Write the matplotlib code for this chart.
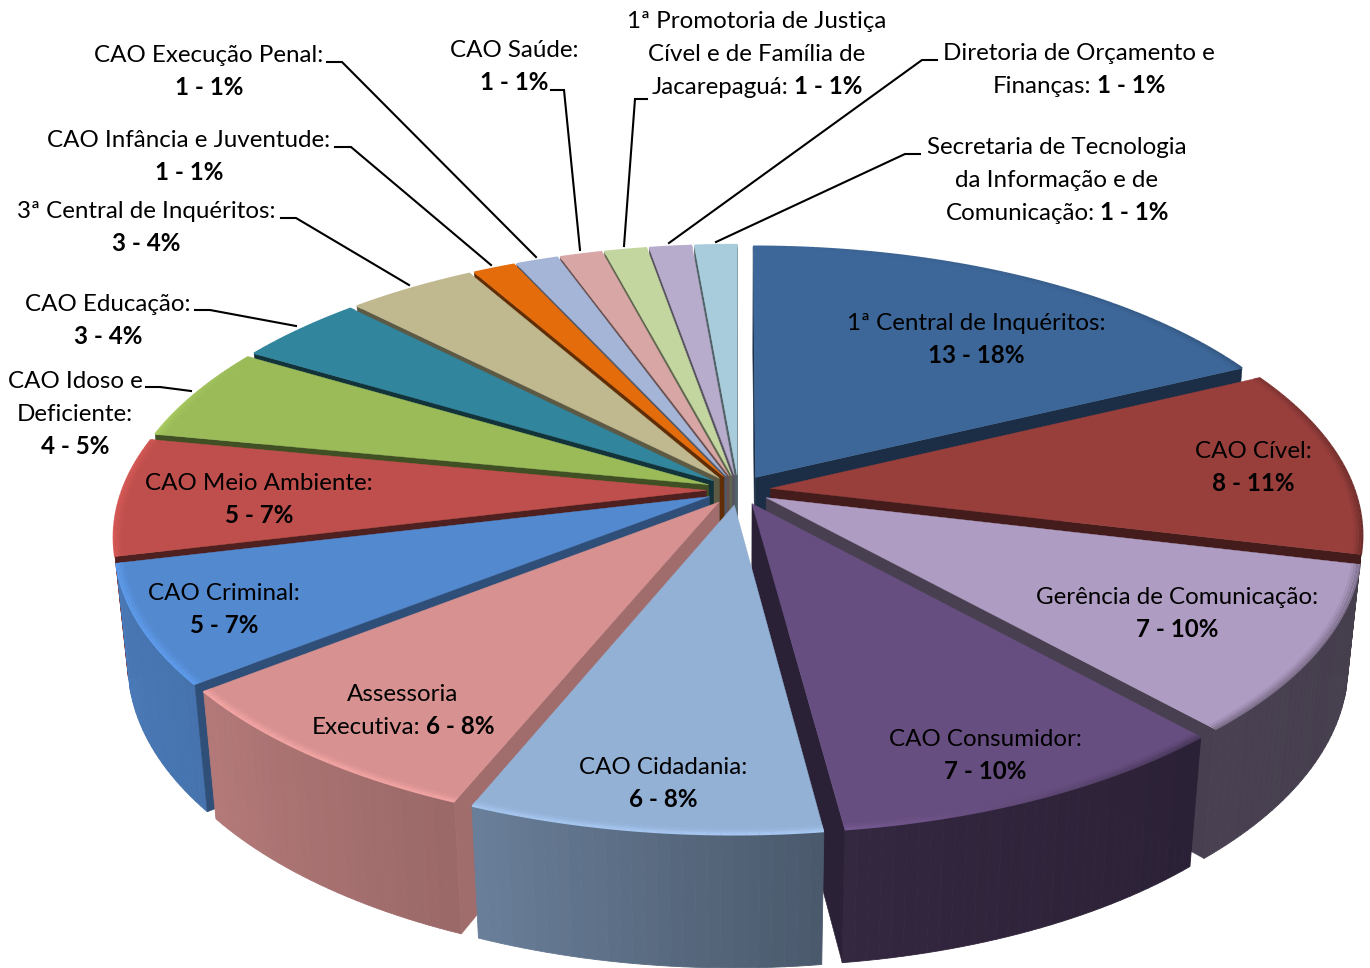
import numpy as np
import matplotlib
matplotlib.use("Agg")
import matplotlib.pyplot as plt
from matplotlib.collections import LineCollection
from matplotlib.colors import to_rgb

# ---- data ----
values = [13, 8, 7, 7, 6, 6, 5, 5, 4, 3, 3, 1, 1, 1, 1, 1, 1]
name_lines = [
    ["1ª Central de Inquéritos:"], ["CAO Cível:"], ["Gerência de Comunicação:"],
    ["CAO Consumidor:"], ["CAO Cidadania:"], ["Assessoria", "Executiva:"],
    ["CAO Criminal:"], ["CAO Meio Ambiente:"], ["CAO Idoso e", "Deficiente:"],
    ["CAO Educação:"], ["3ª Central de Inquéritos:"], ["CAO Infância e Juventude:"],
    ["CAO Execução Penal:"], ["CAO Saúde:"],
    ["1ª Promotoria de Justiça", "Cível e de Família de", "Jacarepaguá:"],
    ["Diretoria de Orçamento e", "Finanças:"],
    ["Secretaria de Tecnologia", "da Informação e de", "Comunicação:"],
]
inline_value = [False, False, False, False, False, True, False, False, False,
                False, False, False, False, False, True, True, True]
colors = ["#3D6799", "#983F3C", "#AF9CC3", "#674E80", "#93B0D5", "#D69190", "#5389CF",
          "#BE4F4C", "#9BBB59", "#31859C", "#C0B98F", "#E46C0A", "#A5B5D8", "#D9A6A6",
          "#C4D6A0", "#B7ACCB", "#A8CCDB"]
wall_shade = [.45, .45, .41, .42, .70, .75, .58, .41, .42, .38, .48, .42, .48, .48, .48, .48, .48]
label_x = [976, 1253, 1177, 985, 663, 403, 224, 259, 75, 108, 146, 189, 209, 514, 757, 1079, 1057]
label_y = [322, 450, 596, 738, 766, 693, 592, 482, 380, 303, 210, 139, 54, 49, 20, 52, 146]
leaders = [
    [(327, 62), (342, 62), (536, 257)], [(551, 90), (564, 90), (580, 250)],
    [(647, 99), (635, 99), (624, 246)], [(937, 60), (922, 60), (669, 243)],
    [(920, 154), (905, 154), (716, 242)], [(335, 147), (351, 147), (491, 265)],
    [(281, 218), (296, 218), (409, 285)], [(195, 310), (210, 310), (296, 326)],
    [(146, 387), (160, 387), (191, 391)],
]

# ---- projection ----
CX, CY, A, B, K, M, H, EXPLODE = 738.5, 490.0, 584.0, 271.5, .160, .021, 121.0, .055


def project(x, y, z=0.0):
    w = 1 + K * y + M * z
    return CX + A * x / w, CY + (-B * y + H * z) / w


def shade(c, f):
    return tuple(np.clip(np.array(to_rgb(c)) * f, 0, 1))


def facing(pts):
    """True when a wall quad faces the viewer (negative screen winding)."""
    p = np.array(pts)
    q = np.roll(p, -1, axis=0)
    return np.sum(p[:, 0] * q[:, 1] - q[:, 0] * p[:, 1]) < 0


fig = plt.figure(figsize=(13.7, 9.68), dpi=100)
ax = fig.add_axes([0, 0, 1, 1])
ax.set_xlim(0, 1370)
ax.set_ylim(968, 0)
ax.axis("off")

total = sum(values)
edges = np.concatenate([[0], np.cumsum(values)]) / total * 2 * np.pi
mids = (edges[:-1] + edges[1:]) / 2
wall_deg = [0, 120, 140, 172, 202, 232, 264, 300, 360]
wall_f = [.42, .40, .42, .50, .72, .84, .90, .70, .45]
rim_deg = [0, 60, 100, 140, 172, 200, 240, 275, 300, 360]
rim_f = [1.0, .86, .72, .72, 1.14, 1.12, 1.14, 1.12, 1.0, 1.0]

for i in np.argsort(-np.cos(mids)):
    t0, t1 = edges[i], edges[i + 1]
    c = colors[i]
    ox, oy = EXPLODE * np.sin(mids[i]), EXPLODE * np.cos(mids[i])
    th = np.linspace(t0, t1, max(6, int(np.degrees(t1 - t0) / 1.0)))
    ax_x, ax_y = ox + np.sin(th), oy + np.cos(th)
    wc = shade(c, wall_shade[i])
    # outer wall with shading along the arc
    for j in range(len(th) - 1):
        deg = np.degrees((th[j] + th[j + 1]) / 2)
        col = shade(c, np.interp(deg, wall_deg, wall_f))
        pts = [project(ax_x[j], ax_y[j]), project(ax_x[j + 1], ax_y[j + 1]),
               project(ax_x[j + 1], ax_y[j + 1], 1), project(ax_x[j], ax_y[j], 1)]
        if facing(pts):
            ax.fill(*zip(*pts), color=col, lw=.6, zorder=1)
    # radial walls
    ex, ey = ox + np.sin(t0), oy + np.cos(t0)
    start = [project(ox, oy), project(ex, ey), project(ex, ey, 1), project(ox, oy, 1)]
    ex, ey = ox + np.sin(t1), oy + np.cos(t1)
    end = [project(ex, ey), project(ox, oy), project(ox, oy, 1), project(ex, ey, 1)]
    for pts in (start, end):
        if facing(pts):
            ax.fill(*zip(*pts), color=wc, lw=.4, zorder=1)
    # top face
    top = [project(ox, oy)] + [project(x, y) for x, y in zip(ax_x, ax_y)]
    ax.fill(*zip(*top), color=c, lw=.3, zorder=1)
    # bevel along the rim
    for off, strength in ((.000, 1.0), (.004, .8), (.008, .5), (.012, .22)):
        xs = ox + (1 - off) * np.sin(th)
        ys = oy + (1 - off) * np.cos(th)
        p = np.array([project(x, y) for x, y in zip(xs, ys)])
        segs = np.stack([p[:-1], p[1:]], axis=1)
        cols = []
        for j in range(len(th) - 1):
            f = np.interp(np.degrees((th[j] + th[j + 1]) / 2), rim_deg, rim_f)
            cols.append(shade(c, 1 + (f - 1) * strength))
        ax.add_collection(LineCollection(segs, colors=cols, linewidths=1.6,
                                         capstyle="butt", zorder=1))

# ---- leader lines ----
for pts in leaders:
    ax.plot(*zip(*pts), color="black", lw=1.5, solid_joinstyle="miter", zorder=2)

# ---- labels ----
FONT = "Lato"
SIZE = 17.4
LINE = 33
renderer = fig.canvas.get_renderer()


def put_line(cx, y, parts):
    arts = []
    for s, bold in parts:
        arts.append(ax.text(0, y + 8, s, family=FONT, fontsize=SIZE, color="black",
                            fontweight="bold" if bold else "normal", va="baseline",
                            ha="left", zorder=3))
    widths = [a.get_window_extent(renderer).width for a in arts]
    space = SIZE * .30
    x = cx - (sum(widths) + space * (len(arts) - 1)) / 2
    for a, w in zip(arts, widths):
        a.set_x(x)
        x += w + space


for i, lines in enumerate(name_lines):
    val = f"{values[i]} - {round(100 * values[i] / total)}%"
    for n, line in enumerate(lines):
        y = label_y[i] + LINE * n
        if inline_value[i] and n == len(lines) - 1:
            put_line(label_x[i], y, [(line, False), (val, True)])
        else:
            put_line(label_x[i], y, [(line, False)])
    if not inline_value[i]:
        put_line(label_x[i], label_y[i] + LINE * len(lines), [(val, True)])

fig.savefig("out.png", dpi=100, facecolor="white")
